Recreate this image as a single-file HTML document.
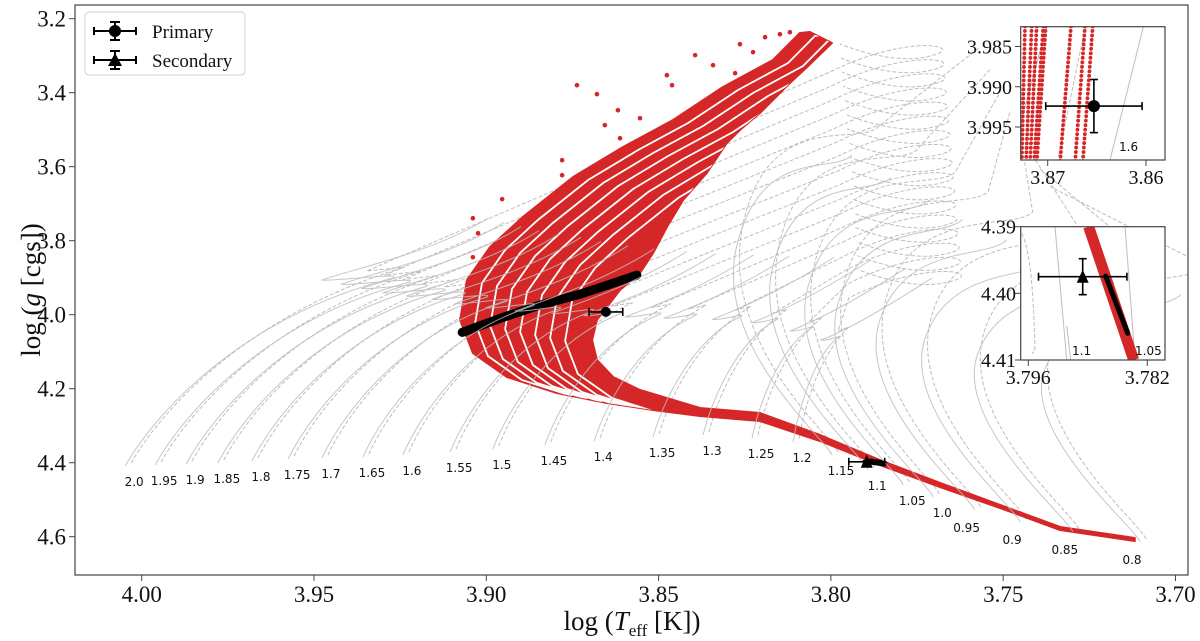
<!DOCTYPE html>
<html><head><meta charset="utf-8">
<style>
html,body{margin:0;padding:0;background:#fff;}
svg{display:block;}
text{font-family:"Liberation Serif",serif;fill:#111;}
.ml{font-family:"DejaVu Sans","Liberation Sans",sans-serif;font-size:12px;}
</style></head>
<body>
<svg id="chart" width="1200" height="641" viewBox="0 0 1200 641" xmlns="http://www.w3.org/2000/svg">
<defs>
<clipPath id="mainclip"><rect x="75" y="5" width="1113" height="570"/></clipPath>
<clipPath id="in1clip"><rect x="1020.7" y="26.7" width="144.3" height="133.3"/></clipPath>
<clipPath id="in2clip"><rect x="1020.7" y="226.7" width="144.3" height="133.3"/></clipPath>
<clipPath id="fanclip"><path id="fanclippath" d=""/></clipPath>
</defs>
<g id="tracks" clip-path="url(#mainclip)"></g>
<g id="fan" clip-path="url(#mainclip)"></g>
<g id="tracksover" clip-path="url(#mainclip)"></g>
<g id="marks"></g>
<rect x="75" y="5" width="1113" height="570" fill="none" stroke="#444" stroke-width="1.2"/>
<g id="axes"></g>
<text x="632" y="630" font-size="27" text-anchor="middle">log (<tspan font-style="italic">T</tspan><tspan font-size="17" dy="6">eff</tspan><tspan dy="-6"> [K])</tspan></text>
<text transform="translate(40,290) rotate(-90)" font-size="27" text-anchor="middle">log (<tspan font-style="italic">g</tspan> [cgs])</text>
<g>
<rect x="85" y="12" width="160" height="63" rx="4" fill="#fff" stroke="#d0d0d0"/>
<g>
<line x1="94" y1="31" x2="136" y2="31" stroke="#000" stroke-width="2"/>
<line x1="115" y1="22" x2="115" y2="40" stroke="#000" stroke-width="2"/>
<line x1="110" y1="22" x2="120" y2="22" stroke="#000" stroke-width="2"/>
<line x1="110" y1="40" x2="120" y2="40" stroke="#000" stroke-width="2"/>
<line x1="94" y1="27" x2="94" y2="35" stroke="#000" stroke-width="2"/>
<line x1="136" y1="27" x2="136" y2="35" stroke="#000" stroke-width="2"/>
<circle cx="115" cy="31" r="6" fill="#000"/>
<text x="152" y="38" font-size="19">Primary</text>
</g>
<g>
<line x1="94" y1="60" x2="136" y2="60" stroke="#000" stroke-width="2"/>
<line x1="115" y1="51" x2="115" y2="69" stroke="#000" stroke-width="2"/>
<line x1="110" y1="51" x2="120" y2="51" stroke="#000" stroke-width="2"/>
<line x1="110" y1="69" x2="120" y2="69" stroke="#000" stroke-width="2"/>
<line x1="94" y1="56" x2="94" y2="64" stroke="#000" stroke-width="2"/>
<line x1="136" y1="56" x2="136" y2="64" stroke="#000" stroke-width="2"/>
<path d="M115,53 L122,66 L108,66 Z" fill="#000"/>
<text x="152" y="67" font-size="19">Secondary</text>
</g>
</g>
<g id="inset1"></g>
<g id="inset2"></g>
</svg>
<script>
// ---- data ----
const masses = ["2.0","1.95","1.9","1.85","1.8","1.75","1.7","1.65","1.6","1.55","1.5","1.45","1.4","1.35","1.3","1.25","1.2","1.15","1.1","1.05","1.0","0.95","0.9","0.85","0.8"];
const zamsT = [4.0048,3.9961,3.9871,3.9779,3.9680,3.9575,3.9477,3.9358,3.9242,3.9105,3.8981,3.8830,3.8687,3.8516,3.8371,3.8229,3.8110,3.7997,3.7892,3.7790,3.7703,3.7583,3.7451,3.7298,3.7103];
const zamsG = [4.4089,4.4062,4.4035,4.4008,4.3954,4.3900,4.3873,4.3846,4.3792,4.3711,4.3630,4.3522,4.3414,4.3305,4.3251,4.3332,4.3441,4.3792,4.4197,4.4603,4.4927,4.5278,4.5603,4.5873,4.6143];
const fanT = [3.7118,3.7335,3.7509,3.7683,3.7858,3.8032,3.8206,3.8380,3.8554,3.8632,3.8679,3.8693,3.8679,3.8612,3.8554,3.8516,3.8476,3.8429,3.8360,3.8302,3.8264,3.8206,3.8119,3.8069,3.7997,3.8061,3.8090,3.8168,3.8313,3.8458,3.8603,3.8748,3.8894,3.8989,3.9056,3.9076,3.9039,3.8940,3.8795,3.8650,3.8516,3.8380,3.8206,3.8032,3.7858,3.7683,3.7509,3.7335,3.7118];
const fanG = [4.6035,4.5738,4.5143,4.4549,4.3927,4.3251,4.2657,4.2522,4.2035,4.1684,4.1224,4.0684,4.0143,3.9332,3.8873,3.8332,3.7630,3.6900,3.6170,3.5359,3.5008,3.4549,3.3738,3.3305,3.2657,3.2359,3.2386,3.3116,3.3846,3.4738,3.5468,3.6278,3.7359,3.8170,3.9062,4.0143,4.1035,4.1684,4.2116,4.2386,4.2576,4.2738,4.2873,4.3414,4.4062,4.4657,4.5224,4.5819,4.6116];
const bandT = [3.9070,3.8960,3.8844,3.8728,3.8641,3.8563];
const bandG = [4.0477,4.0099,3.9738,3.9446,3.9176,3.8932];
const strayT = [3.8394,3.8264,3.8191,3.8148,3.8119,3.8342,3.8278,3.8737,3.8679,3.8618,3.8554,3.8656,3.8612,3.8780,3.8780,3.8954,3.9039,3.9024,3.9039,3.8476,3.8461,3.8226];
const strayG = [3.2986,3.2689,3.2500,3.2419,3.2365,3.3257,3.3473,3.3797,3.4040,3.4473,3.4689,3.4878,3.5230,3.5824,3.6230,3.6878,3.7392,3.7797,3.8446,3.3527,3.3797,3.2905];
const primT = 3.8653, primG = 3.9924, primErrT = 0.0049, primErrG = 0.0033;
const secT = 3.7896, secG = 4.3975, secErrT = 0.0052, secErrG = 0.0027;
const xTicks = [4.00,3.95,3.90,3.85,3.80,3.75,3.70];
const xTickLabels = ["4.00","3.95","3.90","3.85","3.80","3.75","3.70"];
const yTicks = [3.2,3.4,3.6,3.8,4.0,4.2,4.4,4.6];
const yTickLabels = ["3.2","3.4","3.6","3.8","4.0","4.2","4.4","4.6"];
const in1ColTopT = [3.87231,3.87163,3.87112,3.87045,3.87020,3.86763,3.86621,3.86542];
const in1ColBotT = [3.87264,3.87221,3.87180,3.87139,3.87112,3.86875,3.86722,3.86644];
const in1Ticks = [3.985,3.990,3.995];
const in1XTicks = [3.87,3.86];
const in2Ticks = [4.39,4.40,4.41];
const in2XTicks = [3.796,3.782];
const in2BandT = [3.7889,3.7836];
const in2BandG = [4.39,4.41];
const in2BlackT = [3.7869,3.7843];
const in2BlackG = [4.3974,4.406];

// ---- axes ----
const NS="http://www.w3.org/2000/svg";
const xs = t => 141.7 + (4.00 - t)/0.05*172.3;
const ys = g => 462.7 + (g - 4.4)/0.2*74;
const i1x = t => 1047.7 + (3.87 - t)*9830;
const i1y = g => 46.5 + (g - 3.985)*8050;
const i2x = t => 1028.3 + (3.796 - t)*8500;
const i2y = g => 226.7 + (g - 4.39)*6665;

function mk(tag, attrs, parent){const e=document.createElementNS(NS,tag);for(const k in attrs)e.setAttribute(k,attrs[k]);parent.appendChild(e);return e;}
const gTracks=document.getElementById('tracks'), gOver=document.getElementById('tracksover'), gFan=document.getElementById('fan'), gMarks=document.getElementById('marks'), gAxes=document.getElementById('axes');

xTicks.forEach((t,i)=>{
  const x=xs(t);
  const l=mk('line',{x1:x,y1:575,x2:x,y2:581,stroke:'#444','stroke-width':1},gAxes);
  
  
  const tx=mk('text',{x:x,y:602,'font-size':23,'text-anchor':'middle'},gAxes);
  tx.textContent=xTickLabels[i];
  
  
});
yTicks.forEach((g,i)=>{
  const y=ys(g);
  const l=mk('line',{x1:69,y1:y,x2:75,y2:y,stroke:'#444','stroke-width':1},gAxes);
  
  
  const tx=mk('text',{x:66,y:y+8,'font-size':23,'text-anchor':'end'},gAxes);
  tx.textContent=yTickLabels[i];
  
  
});

// tracks
masses.forEach((ms,i)=>{
  const m=parseFloat(ms);
  const sx=xs(zamsT[i]), sy=ys(zamsG[i]);
  const f=Math.max(0,Math.min(1,(2.0-m)/0.85));
  const loopX=900+20*f, loopY=42+240*f;
  for(let v=0;v<2;v++){
    const x0=sx+(v?6:0), y0=sy+(v?-3:0);
    let d;
    if(m>=1.2){
      const a=100+(m-1.4)*280, b=125+(m-1.4)*105;
      const tx=x0+a, ty=y0-b;
      const hk=10+55*(m-1.2)/0.8;
      const c1=`${x0+a*0.12},${y0-b*0.3} ${x0+a*0.45},${y0-b*0.8}`;
      if(!v){
        d=`M${x0},${y0} C${c1} ${tx},${ty} C${tx+12},${ty-6} ${tx-hk},${ty+4} ${tx-hk-6},${ty+2} C${tx-hk+20},${ty-8} ${tx+40},${ty-25} ${tx+95},${ty-60}`;
      } else {
        d=`M${x0},${y0} C${c1} ${tx+6},${ty-8} L${tx-hk*0.5},${ty-4} L${loopX-70},${loopY+30} C${loopX+10},${loopY-10} ${loopX+70},${loopY+5} ${loopX+30},${loopY+14} C${loopX},${loopY+22} ${loopX-40},${loopY+10} ${loopX-60},${loopY+2}`;
      }
    } else {
      const h=300+(v?25:0)-(1.15-m)*150;
      const ex=x0+(v?40:20)+(1.15-m)*60;
      d=`M${x0},${y0} C${x0-5},${y0-15} ${x0-120},${y0-110} ${x0-95},${y0-h*0.7} S${ex-20},${y0-h+20} ${ex},${y0-h}`;
      if(v) d+=` L${loopX+60+(1.15-m)*200},${y0-h-80}`;
    }
    const p=mk('path',{d:d,fill:'none',stroke:'#bdbdbd','stroke-width':1,'stroke-dasharray':v?'4,2':'none'},v?gTracks:gOver);
    
    
  }
  const low=m<1.0;
  const lbl=mk('text',{x:sx+(low?-8:9),y:sy+(low?22:20),'text-anchor':'middle'},gTracks);
  lbl.setAttribute('class','ml');
  lbl.textContent=ms;
  
  
});
gOver.setAttribute('opacity','0.85');

// fan polygon
let fd='';
fanT.forEach((t,i)=>{fd+=(i?'L':'M')+xs(t).toFixed(1)+','+ys(fanG[i]).toFixed(1);});
fd+='Z';
document.getElementById('fanclippath').setAttribute('d',fd);
const fan=mk('path',{d:fd,fill:'#d62728',stroke:'#d62728','stroke-width':2,'stroke-linejoin':'round'},gFan);


const gapG=mk('g',{'clip-path':'url(#fanclip)'},gFan);
for(let k=1;k<=7;k++){
  let gd='';
  for(let j=25;j<=38;j++){gd+=(j>25?'L':'M')+(xs(fanT[j])+15*k)+','+(ys(fanG[j])+3*k);}
  const gp=mk('path',{d:gd,fill:'none',stroke:'#fff','stroke-width':1.8},gapG);
  
  
}
strayT.forEach((t,i)=>{
  const c=mk('circle',{cx:xs(t),cy:ys(strayG[i]),r:2.3,fill:'#d62728'},gFan);
  
  
});
let bd='';
bandT.forEach((t,i)=>{bd+=(i?'L':'M')+xs(t)+','+ys(bandG[i]);});
const band=mk('path',{d:bd,fill:'none',stroke:'#000','stroke-width':9,'stroke-linecap':'round'},gFan);


const sb=mk('path',{d:`M${xs(3.7885)},${ys(4.397)} L${xs(3.7845)},${ys(4.402)}`,stroke:'#000','stroke-width':6,'stroke-linecap':'round'},gFan);



function errbar(parent,fx,fy,T,G,eT,eG,shape,size,name){
  const g=mk('g',{},parent);
  
  
  const x=fx(T),y=fy(G),x1=fx(T+eT),x2=fx(T-eT),y1=fy(G-eG),y2=fy(G+eG);
  const st={stroke:'#000','stroke-width':1.6};
  mk('line',Object.assign({x1:x1,y1:y,x2:x2,y2:y},st),g);
  mk('line',Object.assign({x1:x,y1:y1,x2:x,y2:y2},st),g);
  mk('line',Object.assign({x1:x1,y1:y-4,x2:x1,y2:y+4},st),g);
  mk('line',Object.assign({x1:x2,y1:y-4,x2:x2,y2:y+4},st),g);
  mk('line',Object.assign({x1:x-4,y1:y1,x2:x+4,y2:y1},st),g);
  mk('line',Object.assign({x1:x-4,y1:y2,x2:x+4,y2:y2},st),g);
  if(shape==='c') mk('circle',{cx:x,cy:y,r:size,fill:'#000'},g);
  else mk('path',{d:`M${x},${y-size-1} L${x+size},${y+size} L${x-size},${y+size}Z`,fill:'#000'},g);
}
errbar(gMarks,xs,ys,primT,primG,primErrT,primErrG,'c',5,'primary-star');
errbar(gMarks,xs,ys,secT,secG,secErrT,secErrG,'t',6,'secondary-star');

// ---- inset 1 ----
const in1=document.getElementById('inset1');
mk('rect',{x:1020.7,y:26.7,width:144.3,height:133.3,fill:'#fff'},in1);
const in1c=mk('g',{'clip-path':'url(#in1clip)'},in1);
[[3.87010,3.98254,3.87275,3.99454,'none'],[3.86621,3.98275,3.86892,3.99870,'4,2'],[3.86027,3.98254,3.86366,3.9991,'none']].forEach(r=>{
  const l=mk('line',{x1:i1x(r[0]),y1:i1y(r[1]),x2:i1x(r[2]),y2:i1y(r[3]),stroke:'#bdbdbd','stroke-width':1,'stroke-dasharray':r[4]},in1c);
  
  
});
in1ColTopT.forEach((t,i)=>{
  const l=mk('line',{x1:i1x(t),y1:i1y(3.9825),x2:i1x(in1ColBotT[i]),y2:i1y(3.9995),stroke:'#d62728','stroke-width':3.8,'stroke-linecap':'round','stroke-dasharray':'0.1,4.4'},in1c);
  
  
});
errbar(in1,i1x,i1y,primT,primG,primErrT,primErrG,'c',6,'inset-primary-star');
{const t=mk('text',{x:1119,y:151},in1);t.setAttribute('class','ml');t.textContent='1.6';}
mk('rect',{x:1020.7,y:26.7,width:144.3,height:133.3,fill:'none',stroke:'#444','stroke-width':1.2},in1);
in1Ticks.forEach(g=>{
  const y=i1y(g);
  mk('line',{x1:1015,y1:y,x2:1020.7,y2:y,stroke:'#444'},in1);
  const t=mk('text',{x:1012,y:y+7,'font-size':20,'text-anchor':'end'},in1);
  t.textContent=g.toFixed(3);
  
  
});
in1XTicks.forEach(v=>{
  const x=i1x(v);
  mk('line',{x1:x,y1:160,x2:x,y2:166,stroke:'#444'},in1);
  const t=mk('text',{x:x,y:184,'font-size':20,'text-anchor':'middle'},in1);
  t.textContent=v.toFixed(2);
  
  
});

// ---- inset 2 ----
const in2=document.getElementById('inset2');
mk('rect',{x:1020.7,y:226.7,width:144.3,height:133.3,fill:'#fff'},in2);
const in2c=mk('g',{'clip-path':'url(#in2clip)'},in2);
[[3.79286,4.39,3.79148,4.41],[3.78462,4.39,3.78344,4.41],[3.79148,4.4049,3.79101,4.41]].forEach(r=>{
  const l=mk('line',{x1:i2x(r[0]),y1:i2y(r[1]),x2:i2x(r[2]),y2:i2y(r[3]),stroke:'#bdbdbd','stroke-width':1},in2c);
  
  
});
{const p=mk('path',{d:`M${i2x(3.79678)},${i2y(4.3910)} Q${i2x(3.79545)},${i2y(4.3940)} ${i2x(3.79522)},${i2y(4.4086)} L${i2x(3.79556)},${i2y(4.4090)}`,fill:'none',stroke:'#bdbdbd','stroke-dasharray':'4,2'},in2c);}
{const l=mk('line',{x1:i2x(in2BandT[0]),y1:i2y(in2BandG[0]),x2:i2x(in2BandT[1]),y2:i2y(in2BandG[1]),stroke:'#d62728','stroke-width':11},in2c);}
{const l=mk('line',{x1:i2x(in2BlackT[0]),y1:i2y(in2BlackG[0]),x2:i2x(in2BlackT[1]),y2:i2y(in2BlackG[1]),stroke:'#000','stroke-width':5,'stroke-linecap':'round'},in2c);}
errbar(in2,i2x,i2y,secT,secG,secErrT,secErrG,'t',6,'inset-secondary-star');
{const t=mk('text',{x:1072,y:355},in2);t.setAttribute('class','ml');t.textContent='1.1';}
{const t=mk('text',{x:1135,y:355},in2);t.setAttribute('class','ml');t.textContent='1.05';}
mk('rect',{x:1020.7,y:226.7,width:144.3,height:133.3,fill:'none',stroke:'#444','stroke-width':1.2},in2);
in2Ticks.forEach(g=>{
  const y=i2y(g);
  mk('line',{x1:1015,y1:y,x2:1020.7,y2:y,stroke:'#444'},in2);
  const t=mk('text',{x:1016,y:y+7,'font-size':20,'text-anchor':'end'},in2);
  t.textContent=g.toFixed(2);
  
  
});
in2XTicks.forEach(v=>{
  const x=i2x(v);
  mk('line',{x1:x,y1:360,x2:x,y2:366,stroke:'#444'},in2);
  const t=mk('text',{x:x,y:384,'font-size':20,'text-anchor':'middle'},in2);
  t.textContent=v.toFixed(3);
  
  
});
</script>
</body></html>
